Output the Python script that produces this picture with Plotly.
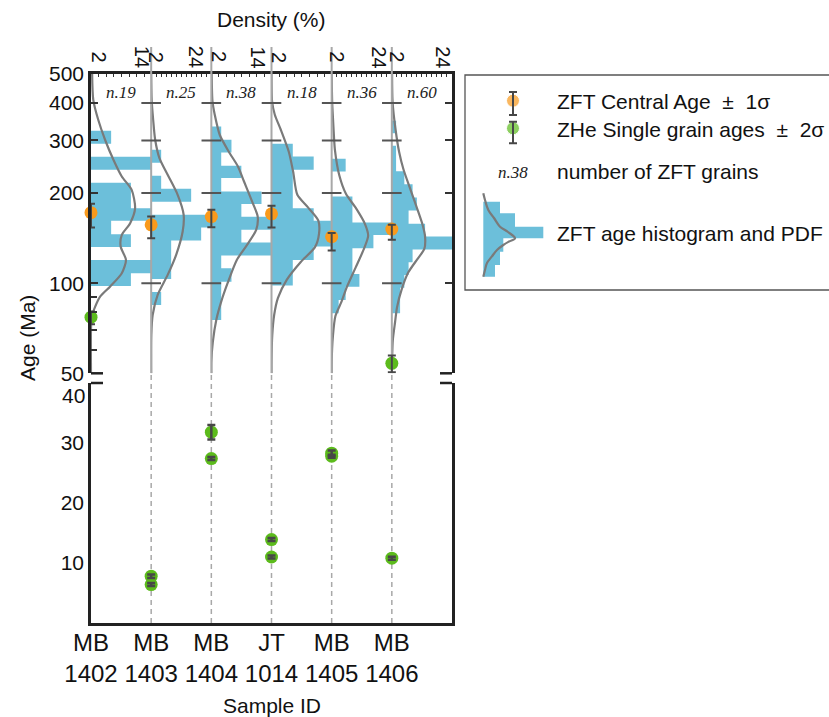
import math
import plotly.graph_objects as go

# ---------------- data ----------------
sample_ids = ["MB1402", "MB1403", "MB1404", "JT1014", "MB1405", "MB1406"]
sample_tick_text = ["MB<br>1402", "MB<br>1403", "MB<br>1404", "JT<br>1014", "MB<br>1405", "MB<br>1406"]
sample_pos = [0, 1, 2, 3, 4, 5]
zft_n = [19, 25, 38, 18, 36, 60]

# density (%) axis of every column
density_axis_max = [15.83, 24.07, 15.83, 15.83, 24.07, 24.07]
density_first_label = [2, 2, 2, 2, 2, 2]
density_max_label = [14, 24, 14, 16, 24, 24]

# ZFT age histograms: bin edges (Ma) and density (%)
hist_edges_MB1402 = [97.9, 108.0, 119.6, 132.2, 145.8, 161.6, 178.1, 195.8, 216.5, 239.3, 264.5, 292.3, 323.1]
hist_dens_MB1402 = [10.5, 15.8, 0, 10.5, 5.3, 15.8, 10.5, 10.5, 0, 15.8, 0, 5.3]
hist_edges_MB1403 = [84.6, 93.5, 103.2, 114.0, 125.9, 139.0, 153.5, 169.2, 187.0, 206.7, 228.5, 252.6, 279.1]
hist_dens_MB1403 = [4, 0, 8, 8, 8, 20, 28, 0, 16, 4, 0, 4]
hist_edges_MB1404 = [75.4, 83.1, 91.9, 101.2, 112.2, 123.7, 136.7, 150.8, 166.6, 183.8, 202.5, 224.5, 246.8, 273.4, 301.5, 334.0]
hist_dens_MB1404 = [2.6, 2.6, 2.6, 5.3, 2.6, 15.8, 7.9, 18.4, 7.9, 13.2, 2.6, 7.9, 2.6, 5.3, 2.6]
hist_edges_JT1014 = [98.2, 108.5, 119.6, 132.6, 146.2, 161.6, 178.1, 197.4, 217.0, 239.3, 265.1, 292.3]
hist_dens_JT1014 = [5.6, 5.6, 11.1, 16.7, 16.7, 11.1, 5.6, 5.6, 5.6, 11.1, 5.6]
hist_edges_MB1405 = [79.4, 87.9, 97.4, 107.4, 118.8, 130.9, 145.0, 159.4, 175.9, 194.8, 214.3, 236.2, 260.4]
hist_dens_MB1405 = [2.8, 5.6, 11.1, 8.3, 8.3, 16.7, 25.0, 8.3, 8.3, 0, 0, 5.6]
hist_edges_MB1406 = [79.4, 87.6, 96.6, 106.6, 117.6, 129.7, 143.2, 158.1, 174.8, 193.2, 214.0, 236.5, 261.0, 287.9, 316.9, 348.9]
hist_dens_MB1406 = [3.3, 3.3, 5.0, 6.7, 8.3, 25.0, 13.3, 6.7, 10.0, 8.3, 5.0, 1.7, 1.7, 0, 1.7]

# ZFT PDFs: age (Ma) and density (%)
pdf_age_MB1402 = [500, 410, 351.6, 301.5, 258.4, 227.2, 205.1, 178.1, 158.7, 145.0, 132.6, 119.6, 108.0, 97.4, 90.2, 83.5, 77.3, 70, 50]
pdf_dens_MB1402 = [0.3, 0.6, 1.9, 3.7, 5.9, 8.1, 10.7, 11.6, 10.3, 8.1, 7.8, 9.2, 8.1, 5.0, 2.4, 1.1, 0.2, 0, 0]
pdf_age_MB1403 = [500, 410, 351.6, 301.5, 261.8, 230.3, 197.4, 169.2, 148.8, 124.4, 106.6, 91.4, 78.3, 67.1, 50]
pdf_dens_MB1403 = [0, 0.2, 0.8, 1.6, 3.3, 6.6, 10.6, 13.0, 12.6, 10.0, 6.6, 2.6, 0.6, 0.05, 0]
pdf_age_MB1404 = [500, 404.9, 365.4, 313.3, 274.9, 245.5, 218.7, 185.2, 167.0, 150.8, 134.3, 119.6, 100.2, 86.8, 75.4, 63.8, 54.7, 50]
pdf_dens_MB1404 = [0.1, 0.3, 0.9, 2.2, 4.6, 7.0, 8.6, 10.9, 12.2, 11.8, 9.4, 6.7, 4.3, 2.6, 1.3, 0.4, 0.0, 0]
pdf_age_JT1014 = [500, 404, 365.4, 325.6, 274.9, 235.6, 197.4, 179.2, 162.2, 146.2, 131.7, 117.8, 102.6, 89.3, 78.3, 67.1, 54.6, 50]
pdf_dens_JT1014 = [0, 0.16, 0.87, 2.45, 4.55, 5.7, 6.8, 9.6, 12.3, 12.5, 11.4, 7.7, 4.0, 1.7, 0.7, 0.2, 0, 0]
pdf_age_MB1405 = [500, 404, 346.3, 279.1, 228.5, 199.0, 177.2, 157.9, 144.0, 130.2, 113.4, 97.2, 86.6, 77.7, 66.6, 54.6, 50]
pdf_dens_MB1405 = [0, 0.2, 0.6, 1.3, 3.1, 5.7, 9.9, 13.3, 14.6, 12.9, 9.7, 6.1, 3.9, 1.5, 0.5, 0, 0]
pdf_age_MB1406 = [500, 404, 325.6, 274.9, 239.3, 205.1, 175.9, 156.7, 142.9, 130.2, 120.6, 108.7, 95.7, 83.3, 74.2, 64.6, 55.4, 50]
pdf_dens_MB1406 = [0.1, 0.3, 1.5, 2.9, 4.7, 7.5, 10.3, 12.3, 13.3, 13.0, 10.3, 6.6, 4.0, 2.1, 1.3, 0.4, 0.1, 0]

# ZFT central ages +/- 1 sigma (Ma)
zft_age = [172.0, 156.7, 167.0, 170.5, 143.0, 151.6]
zft_err_plus = [12.2, 10.3, 8.9, 10.8, 4.0, 5.1]
zft_err_minus = [18.5, 15.3, 13.1, 17.0, 14.5, 12.0]

# ZHe single grain ages +/- 2 sigma (Ma), older than 50 Ma
zhe_old_pos = [0, 5]
zhe_old_age = [77.0, 54.0]
zhe_old_err_plus = [3.4, 3.3]
zhe_old_err_minus = [4.1, 3.6]

# ZHe single grain ages +/- 2 sigma (Ma), younger than 40 Ma
zhe_young_pos = [1, 1, 2, 2, 3, 3, 4, 4, 5]
zhe_young_age = [7.8, 6.4, 31.8, 27.4, 13.9, 11.0, 28.3, 27.8, 10.8]
zhe_young_err = [0.3, 0.25, 1.2, 0.25, 0.25, 0.25, 0.45, 0.25, 0.25]

age_ticks_top = [50, 100, 200, 300, 400, 500]
age_minor_ticks = [60, 70, 80, 90]
baseline_tick_ages = [100, 200, 300, 400]
age_ticks_bottom = [10, 20, 30, 40]

# legend glyph (in legend-box pixel units)
legend_icon_edges = [201.7, 213.3, 226.7, 238.3, 251.7, 265.0, 276.7]
legend_icon_right = [500, 515, 543.3, 503.3, 500, 495]
legend_icon_base = 483.3
legend_curve_x = [483.3, 485, 488.3, 494, 500, 508, 515, 509, 503.3, 497, 491.7, 487, 485, 483.3]
legend_curve_y = [193.3, 200, 210, 218, 226.7, 232, 238.3, 241.5, 245, 250, 256.7, 263, 270, 276.7]

hist_edges = [hist_edges_MB1402, hist_edges_MB1403, hist_edges_MB1404, hist_edges_JT1014, hist_edges_MB1405, hist_edges_MB1406]
hist_dens = [hist_dens_MB1402, hist_dens_MB1403, hist_dens_MB1404, hist_dens_JT1014, hist_dens_MB1405, hist_dens_MB1406]
pdf_age = [pdf_age_MB1402, pdf_age_MB1403, pdf_age_MB1404, pdf_age_JT1014, pdf_age_MB1405, pdf_age_MB1406]
pdf_dens = [pdf_dens_MB1402, pdf_dens_MB1403, pdf_dens_MB1404, pdf_dens_JT1014, pdf_dens_MB1405, pdf_dens_MB1406]

# ---------------- styles / layout geometry ----------------
BLUE = "#6cbfda"
ORANGE = "#f99a1c"
GREEN = "#5cbb1c"
ERR = "#474747"
AXC = "#222222"
BASEGRAY = "#a8a8a8"
FONT = "Liberation Sans, Arial, Helvetica, sans-serif"
SERIF = "Liberation Serif, Times New Roman, serif"

W, H = 829, 717
L, R, T, B = 91, 829, 74, 623


def fx(px):
    return (px - L) / (R - L)


def fy(py):
    return (B - py) / (B - T)


panel_right = 452
top_panel_bottom = 373.3
bottom_panel_top = 383
main_dom = [0, fx(panel_right)]
col_w = main_dom[1] / 6
density_label_shift = [-2, -15, -7, -13, -13, -9]

fig = go.Figure()

# histograms
for i in range(6):
    e, d = hist_edges[i], hist_dens[i]
    xs, ys = [0], [e[0]]
    for k in range(len(d)):
        xs += [d[k], d[k]]
        ys += [e[k], e[k + 1]]
    xs.append(0)
    ys.append(e[-1])
    fig.add_trace(go.Scatter(x=xs, y=ys, xaxis=f"x{i + 2}", yaxis="y", mode="lines",
                             fill="toself", fillcolor=BLUE, line=dict(width=0, color=BLUE),
                             hoverinfo="skip"))
# PDFs
for i in range(6):
    fig.add_trace(go.Scatter(x=pdf_dens[i], y=pdf_age[i], xaxis=f"x{i + 2}", yaxis="y", mode="lines",
                             line=dict(color="#7a7a7a", width=2.2, shape="spline", smoothing=0.7),
                             hoverinfo="skip"))

# column baselines in the upper panel
bx, by = [], []
for p in sample_pos[1:]:
    bx += [p, p, None]
    by += [age_ticks_top[0], age_ticks_top[-1], None]
fig.add_trace(go.Scatter(x=bx, y=by, xaxis="x8", yaxis="y", mode="lines",
                         line=dict(color=BASEGRAY, width=2), hoverinfo="skip"))
# crossing ticks on baselines
tx = [p for p in sample_pos[1:] for a in baseline_tick_ages]
ty = [a for p in sample_pos[1:] for a in baseline_tick_ages]
fig.add_trace(go.Scatter(x=tx, y=ty, xaxis="x8", yaxis="y", mode="markers",
                         marker=dict(symbol="line-ew", size=14, line=dict(width=2, color="#555555")),
                         hoverinfo="skip"))

# ZFT central ages
fig.add_trace(go.Scatter(x=sample_pos, y=zft_age, xaxis="x8", yaxis="y", mode="markers",
                         marker=dict(size=13, color=ORANGE), cliponaxis=False))
fig.add_trace(go.Scatter(x=sample_pos, y=zft_age, xaxis="x8", yaxis="y", mode="markers",
                         marker=dict(size=1, color="rgba(0,0,0,0)"), cliponaxis=False,
                         error_y=dict(type="data", symmetric=False, array=zft_err_plus,
                                      arrayminus=zft_err_minus, color=ERR, thickness=2, width=4)))
# ZHe old grains (upper panel)
fig.add_trace(go.Scatter(x=zhe_old_pos, y=zhe_old_age, xaxis="x8", yaxis="y", mode="markers",
                         marker=dict(size=13, color=GREEN), cliponaxis=False))
fig.add_trace(go.Scatter(x=zhe_old_pos, y=zhe_old_age, xaxis="x8", yaxis="y", mode="markers",
                         marker=dict(size=1, color="rgba(0,0,0,0)"), cliponaxis=False,
                         error_y=dict(type="data", symmetric=False, array=zhe_old_err_plus,
                                      arrayminus=zhe_old_err_minus, color=ERR, thickness=2, width=4)))
# ZHe young grains (lower panel)
fig.add_trace(go.Scatter(x=zhe_young_pos, y=zhe_young_age, xaxis="x", yaxis="y2", mode="markers",
                         marker=dict(size=13, color=GREEN), cliponaxis=False))
fig.add_trace(go.Scatter(x=zhe_young_pos, y=zhe_young_age, xaxis="x", yaxis="y2", mode="markers",
                         marker=dict(size=1, color="rgba(0,0,0,0)"), cliponaxis=False,
                         error_y=dict(type="data", array=zhe_young_err, color=ERR, thickness=2.5, width=4)))
# dummy for minor-tick overlay axis
fig.add_trace(go.Scatter(x=[None], y=[None], xaxis="x8", yaxis="y3", mode="markers", hoverinfo="skip"))

# legend glyphs
ix, iy = [legend_icon_base], [legend_icon_edges[0]]
for k in range(len(legend_icon_right)):
    ix += [legend_icon_right[k], legend_icon_right[k]]
    iy += [legend_icon_edges[k], legend_icon_edges[k + 1]]
ix.append(legend_icon_base)
iy.append(legend_icon_edges[-1])
fig.add_trace(go.Scatter(x=ix, y=iy, xaxis="x9", yaxis="y4", mode="lines", fill="toself",
                         fillcolor=BLUE, line=dict(width=0, color=BLUE), hoverinfo="skip"))
fig.add_trace(go.Scatter(x=legend_curve_x, y=legend_curve_y, xaxis="x9", yaxis="y4", mode="lines",
                         line=dict(color="#7a7a7a", width=2.2, shape="spline"), hoverinfo="skip"))
fig.add_trace(go.Scatter(x=[513, 513], y=[100.7, 128.3], xaxis="x9", yaxis="y4", mode="markers",
                         marker=dict(size=[13, 13], color=[ORANGE, GREEN]), cliponaxis=False))
fig.add_trace(go.Scatter(x=[513, 513], y=[100.7, 128.3], xaxis="x9", yaxis="y4", mode="markers",
                         marker=dict(size=1, color="rgba(0,0,0,0)"), cliponaxis=False,
                         error_y=dict(type="data", symmetric=False, array=[14.3, 15.0],
                                      arrayminus=[8.7, 6.6], color=ERR, thickness=2, width=4)))

# ---------------- axes ----------------
layout_axes = dict(
    xaxis=dict(domain=main_dom, range=[0, 6], anchor="y2", tickmode="array", tickvals=sample_pos,
               ticktext=sample_tick_text, ticks="", showline=True, linecolor=AXC, linewidth=2.5,
               showgrid=False, zeroline=False, ticklabelstandoff=-4,
               tickfont=dict(size=24, color="#111")),
    yaxis2=dict(domain=[0, fy(bottom_panel_top)], range=[0, 40], anchor="x", tickmode="array",
                tickvals=age_ticks_bottom, ticktext=[str(v) for v in age_ticks_bottom[:-1]] + [""],
                ticks="", showline=True, mirror=True, linecolor=AXC, linewidth=2.5,
                showgrid=False, zeroline=False, tickfont=dict(size=21, color="#111")),
    xaxis8=dict(domain=main_dom, range=[0, 6], anchor="y", side="top", showline=True, linecolor=AXC,
                linewidth=2.5, ticks="", showticklabels=False, showgrid=False, zeroline=False),
    yaxis=dict(domain=[fy(top_panel_bottom), 1], type="log",
               range=[math.log10(age_ticks_top[0]), math.log10(age_ticks_top[-1])], anchor="x8",
               tickmode="array", tickvals=age_ticks_top, ticktext=[str(v) for v in age_ticks_top],
               ticks="inside", ticklen=7, tickwidth=2, tickcolor="#333", showline=True, linecolor=AXC,
               linewidth=2.5, mirror="ticks", showgrid=False, zeroline=False,
               tickfont=dict(size=21, color="#111")),
    yaxis3=dict(overlaying="y", anchor="x8", side="left", type="log",
                range=[math.log10(age_ticks_top[0]), math.log10(age_ticks_top[-1])],
                tickmode="array", tickvals=age_minor_ticks, ticks="inside", ticklen=6, tickwidth=2,
                tickcolor="#333", showticklabels=False, showline=False, showgrid=False, zeroline=False),
    xaxis9=dict(domain=[fx(465), 1], range=[465, 829], anchor="y4", visible=False),
    yaxis4=dict(domain=[fy(290), fy(75)], range=[290, 75], anchor="x9", visible=False),
)
for i in range(6):
    layout_axes[f"xaxis{i + 2}"] = dict(
        domain=[i * col_w, (i + 1) * col_w], range=[0, density_axis_max[i]], anchor="y", side="top",
        tickmode="linear", tick0=0, dtick=2, ticks="inside", ticklen=3, tickwidth=1, tickcolor="#333",
        showticklabels=False, showline=False, showgrid=False, zeroline=False)

# ---------------- shapes ----------------
shapes = []
shapes.append(dict(type="rect", xref="paper", yref="paper", x0=fx(465), x1=fx(836), y0=fy(290), y1=fy(75),
                   line=dict(color="#555555", width=1.3), fillcolor="rgba(0,0,0,0)"))
for p in sample_pos[1:]:
    shapes.append(dict(type="line", xref="x8", yref="y domain", x0=p, x1=p, y0=1,
                       y1=(top_panel_bottom - 47) / (top_panel_bottom - T),
                       line=dict(color=BASEGRAY, width=2)))
    shapes.append(dict(type="line", xref="x", yref="y2 domain", x0=p, x1=p, y0=0, y1=1.045,
                       line=dict(color=BASEGRAY, width=1.5, dash="5px,4px"), layer="below"))
for a, b in [(0, 0.2), (5.8, 6)]:
    shapes.append(dict(type="line", xref="x8", yref="y domain", x0=a, x1=b, y0=0, y1=0,
                       line=dict(color=AXC, width=2.5)))
    shapes.append(dict(type="line", xref="x", yref="y2 domain", x0=a, x1=b, y0=1, y1=1,
                       line=dict(color=AXC, width=2.5)))

# ---------------- annotations ----------------
ann = []
for i in range(6):
    ann.append(dict(xref=f"x{i + 2}", yref="paper", x=density_first_label[i], y=fy(57),
                    text=str(density_first_label[i]), textangle=90, showarrow=False,
                    xanchor="center", yanchor="middle", font=dict(size=20, color="#111")))
    ann.append(dict(xref=f"x{i + 2}", yref="paper", x=density_max_label[i], y=fy(57),
                    text=str(density_max_label[i]), textangle=90, showarrow=False,
                    xanchor="center", yanchor="middle", xshift=density_label_shift[i],
                    font=dict(size=20, color="#111")))
    ann.append(dict(xref="x8", yref="y domain", x=sample_pos[i] + 0.5,
                    y=(top_panel_bottom - 92) / (top_panel_bottom - T),
                    text=f"<i>n.{zft_n[i]}</i>", showarrow=False, xanchor="center", yanchor="middle",
                    font=dict(family=SERIF, size=17, color="#222")))
ann.append(dict(xref="paper", yref="paper", x=fx(271), y=fy(20), text="Density (%)", showarrow=False,
                xanchor="center", yanchor="middle", font=dict(size=21, color="#111")))
ann.append(dict(xref="paper", yref="paper", x=fx(27), y=fy(338), text="Age (Ma)", textangle=-90,
                showarrow=False, xanchor="center", yanchor="middle", font=dict(size=21, color="#111")))
ann.append(dict(xref="paper", yref="paper", x=fx(271.5), y=fy(705), text="Sample ID", showarrow=False,
                xanchor="center", yanchor="middle", font=dict(size=21, color="#111")))
ann.append(dict(xref="x", yref="y2", x=0, y=age_ticks_bottom[-1], text=str(age_ticks_bottom[-1]),
                showarrow=False, xanchor="right", yanchor="middle", xshift=-4, yshift=-12,
                font=dict(size=21, color="#111")))
legend_texts = [("ZFT Central Age\u00a0 \u00b1\u00a0 1\u03c3", 101),
                ("ZHe Single grain ages\u00a0 \u00b1\u00a0 2\u03c3", 129),
                ("number of ZFT grains", 171),
                ("ZFT age histogram and PDF", 233)]
for txt, yy in legend_texts:
    ann.append(dict(xref="x9", yref="y4", x=555, y=yy, text=txt, showarrow=False, xanchor="left",
                    yanchor="middle", font=dict(size=21, color="#111")))
ann.append(dict(xref="x9", yref="y4", x=513, y=172, text="<i>n.38</i>", showarrow=False,
                xanchor="center", yanchor="middle", font=dict(family=SERIF, size=17, color="#222")))

fig.update_layout(
    width=W, height=H, margin=dict(l=L, r=W - R, t=T, b=H - B, pad=0),
    paper_bgcolor="white", plot_bgcolor="rgba(0,0,0,0)", showlegend=False,
    font=dict(family=FONT, size=21, color="#111"),
    shapes=shapes, annotations=ann, **layout_axes)

fig.write_html("out.html", config={"displayModeBar": False},
               post_script="document.body.style.margin='0';document.body.style.overflow='hidden';")
